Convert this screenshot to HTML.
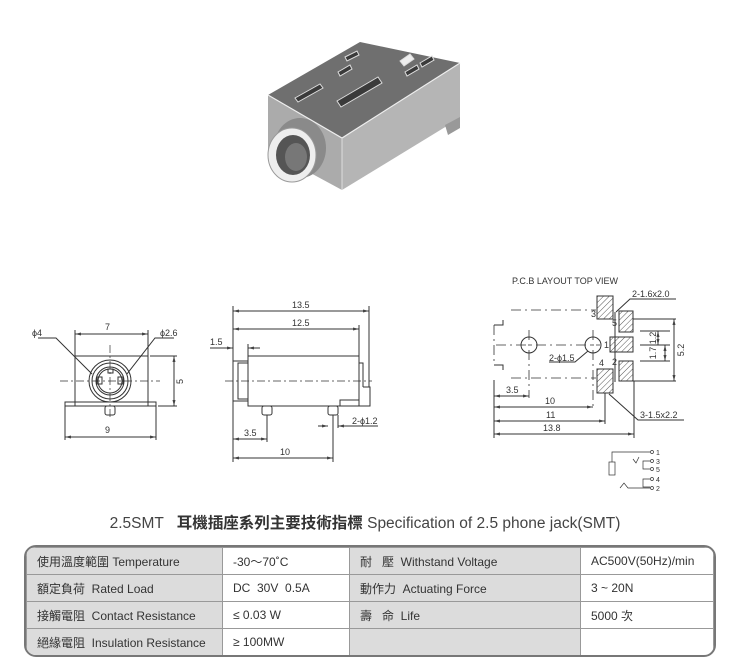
<!DOCTYPE html>
<html><head><meta charset="utf-8"><style>
body{margin:0;width:730px;height:670px;background:#fff;overflow:hidden;position:relative;font-family:"Liberation Sans","Noto Sans CJK TC",sans-serif}
svg{position:absolute;left:0;top:0}
.t{position:absolute;top:511px;left:0;width:730px;text-align:center;font-size:15.5px;color:#444;white-space:nowrap}
.t b{color:#333}
.wrap{position:absolute;left:24px;top:545px;width:688px;height:108px;border:2px solid #777;border-radius:12px;overflow:hidden}
table{position:absolute;left:0;top:0;width:688px;border-collapse:collapse;font-size:12px;color:#333}
td{height:27px;padding:0 0 0 10px;border:1px solid #999;box-sizing:border-box;white-space:nowrap}
td.g{background:#dcdcdc}
</style></head><body>
<svg width="730" height="670" viewBox="0 0 730 670" font-family="Liberation Sans, sans-serif" font-size="9" fill="#333">
<defs>
<pattern id="h" width="4" height="4" patternUnits="userSpaceOnUse" patternTransform="rotate(45)"><line x1="0" y1="0" x2="0" y2="4" stroke="#555" stroke-width="1"/></pattern>
<marker id="a" markerWidth="6" markerHeight="6" refX="6" refY="3" orient="auto-start-reverse"><path d="M0,1.5L6,3L0,4.5z" fill="#444"/></marker>
</defs>
<!-- 3D jack -->
<polygon points="268,95 360,42 460,63 342,138" fill="#6f6f6f"/>
<polygon points="342,138 460,63 460,118 342,190" fill="#b5b5b5"/>
<polygon points="268,95 342,138 342,190 268,150" fill="#ababab"/>
<polyline points="268,95 342,138 460,63" fill="none" stroke="#eee" stroke-width="1.2"/>
<line x1="342" y1="138" x2="342" y2="190" stroke="#ddd"/>
<polygon points="445,125 460,117 460,128 448,135" fill="#999"/>
<g fill="#3a3a3a" stroke="#ddd" stroke-width="1">
<polygon points="295,98 320,84 323,88 298,102"/>
<polygon points="337,101 378,77 382,83 341,107"/>
<polygon points="338,72 350,65 352,69 340,76"/>
<polygon points="345,57 357,51 359,55 347,61"/>
<polygon points="405,72 417,65 419,69 407,76"/>
<polygon points="420,63 432,56 434,60 422,67"/>
<polygon points="400,61 410,54 414,59 404,66" fill="#eee"/>
</g>
<ellipse cx="300" cy="148" rx="26" ry="30" fill="#8a8a8a"/>
<ellipse cx="292" cy="155" rx="24" ry="27" fill="#eee" stroke="#999"/>
<ellipse cx="293" cy="155" rx="17" ry="20" fill="#555"/>
<ellipse cx="296" cy="157" rx="11" ry="14" fill="#777"/>

<g stroke="#333" stroke-width="1" fill="none">
<rect x="75" y="356" width="73" height="50" fill="#fff"/>
<rect x="65" y="402" width="91" height="4"/>
<circle cx="110" cy="381" r="21"/><circle cx="110" cy="381" r="18"/><circle cx="110" cy="381" r="14"/><circle cx="110" cy="381" r="12"/>
<rect x="97" y="377" width="5" height="7"/><rect x="118" y="377" width="5" height="7"/><rect x="108" y="369" width="5" height="4"/>
<rect x="105" y="406" width="10" height="9" rx="2"/>
<line x1="60" y1="381" x2="160" y2="381" stroke-dasharray="8,3,2,3" stroke-width=".7"/>
<line x1="110" y1="345" x2="110" y2="420" stroke-dasharray="8,3,2,3" stroke-width=".7"/>
<line x1="75" y1="334" x2="148" y2="334" marker-start="url(#a)" marker-end="url(#a)"/>
<line x1="75" y1="330" x2="75" y2="356"/><line x1="148" y1="330" x2="148" y2="356"/>
<line x1="65" y1="437" x2="156" y2="437" marker-start="url(#a)" marker-end="url(#a)"/>
<line x1="65" y1="406" x2="65" y2="440"/><line x1="156" y1="406" x2="156" y2="440"/>
<line x1="174" y1="356" x2="174" y2="406" marker-start="url(#a)" marker-end="url(#a)"/>
<line x1="150" y1="356" x2="177" y2="356"/><line x1="158" y1="406" x2="177" y2="406"/>
<polyline points="38,338 56,338 92,374"/><polyline points="174,338 155,338 127,374"/>
<rect x="233" y="361" width="15" height="40"/><rect x="238" y="363" width="10" height="36"/>
<rect x="248" y="356" width="111" height="50" fill="#fff"/>
<path d="M359,363 h4 v24 M363,387 h7 v19 h-30 v-6 h19"/>
<rect x="262" y="406" width="10" height="9" rx="2"/><rect x="328" y="406" width="10" height="9" rx="2"/>
<line x1="225" y1="381" x2="372" y2="381" stroke-dasharray="8,3,2,3" stroke-width=".7"/>
<line x1="233" y1="311" x2="369" y2="311" marker-start="url(#a)" marker-end="url(#a)"/>
<line x1="233" y1="329" x2="359" y2="329" marker-start="url(#a)" marker-end="url(#a)"/>
<line x1="233" y1="306" x2="233" y2="462"/><line x1="369" y1="306" x2="369" y2="387"/><line x1="359" y1="325" x2="359" y2="356"/>
<line x1="210" y1="348" x2="233" y2="348" marker-end="url(#a)"/><line x1="248" y1="348" x2="260" y2="348" marker-start="url(#a)"/>
<line x1="248" y1="344" x2="248" y2="356"/>
<line x1="233" y1="439" x2="267" y2="439" marker-start="url(#a)" marker-end="url(#a)"/>
<line x1="233" y1="458" x2="333" y2="458" marker-start="url(#a)" marker-end="url(#a)"/>
<line x1="267" y1="415" x2="267" y2="442"/><line x1="333" y1="415" x2="333" y2="462"/><line x1="338" y1="415" x2="338" y2="428"/>
<line x1="318" y1="426" x2="328" y2="426" marker-end="url(#a)"/><line x1="348" y1="426" x2="338" y2="426" marker-end="url(#a)"/><line x1="348" y1="426" x2="378" y2="426"/>
<g stroke-dasharray="10,4,2,4" stroke-width=".8">
<polyline points="511,310 596,310"/><polyline points="511,378 596,378"/>
<polyline points="494,325 494,365"/><line x1="496" y1="345" x2="600" y2="345"/>
<line x1="529" y1="330" x2="529" y2="398"/><line x1="593" y1="330" x2="593" y2="408"/>
</g>
<polyline points="494,325 503,325 503,320"/><polyline points="494,365 503,365 503,370"/>
<circle cx="529" cy="345" r="8"/><circle cx="593" cy="345" r="8"/>
<g fill="url(#h)">
<rect x="597" y="296" width="16" height="23"/><rect x="619" y="311" width="14" height="21"/>
<rect x="610" y="337" width="23" height="15"/><rect x="619" y="361" width="14" height="20"/><rect x="597" y="369" width="16" height="24"/>
</g>
<line x1="615" y1="312" x2="615" y2="382"/>
<line x1="494" y1="380" x2="494" y2="438"/>
<line x1="605" y1="393" x2="605" y2="424"/><line x1="634" y1="381" x2="634" y2="438"/>
<line x1="494" y1="396" x2="529" y2="396" marker-start="url(#a)" marker-end="url(#a)"/>
<line x1="494" y1="407" x2="593" y2="407" marker-start="url(#a)" marker-end="url(#a)"/>
<line x1="494" y1="421" x2="605" y2="421" marker-start="url(#a)" marker-end="url(#a)"/>
<line x1="494" y1="434" x2="634" y2="434" marker-start="url(#a)" marker-end="url(#a)"/>
<line x1="633" y1="319" x2="676" y2="319"/><line x1="633" y1="381" x2="676" y2="381"/>
<line x1="640" y1="331" x2="670" y2="331"/><line x1="640" y1="361" x2="670" y2="361"/><line x1="640" y1="345" x2="670" y2="345"/>
<line x1="674" y1="319" x2="674" y2="381" marker-start="url(#a)" marker-end="url(#a)"/>
<line x1="658" y1="331" x2="658" y2="345" marker-start="url(#a)" marker-end="url(#a)"/>
<line x1="665" y1="345" x2="665" y2="361" marker-start="url(#a)" marker-end="url(#a)"/>
<polyline points="616,312 630,299 676,299"/>
<polyline points="549,362 575,362 588,351"/>
<polyline points="609,394 638,420 684,420"/>
<g stroke-width=".7">
<polyline points="650,452 612,452 612,462"/><rect x="609" y="462" width="6" height="13"/>
<polyline points="650,461 643,461 643,469 650,469"/><polyline points="633,459 636,463 639,457"/>
<polyline points="650,479 643,479 643,487 650,487"/><polyline points="620,488 624,483 628,488 650,488"/>
<circle cx="652" cy="452" r="1.5"/><circle cx="652" cy="461" r="1.5"/><circle cx="652" cy="469" r="1.5"/><circle cx="652" cy="479" r="1.5"/><circle cx="652" cy="488" r="1.5"/>
</g>
</g>
<g stroke="none" fill="#333">
<text x="105" y="330">7</text><text x="32" y="336">ϕ4</text><text x="160" y="336">ϕ2.6</text>
<text x="105" y="433">9</text><text x="183" y="384" transform="rotate(-90 183 384)">5</text>
<text x="292" y="308">13.5</text><text x="292" y="326">12.5</text><text x="210" y="345">1.5</text>
<text x="244" y="436">3.5</text><text x="280" y="455">10</text><text x="352" y="424">2-ϕ1.2</text>
<text x="512" y="284">P.C.B LAYOUT TOP VIEW</text>
<text x="632" y="297">2-1.6x2.0</text><text x="591" y="317">3</text><text x="612" y="326">5</text><text x="604" y="348">1</text>
<text x="612" y="365">2</text><text x="599" y="366">4</text><text x="549" y="361">2-ϕ1.5</text>
<text x="506" y="393">3.5</text><text x="545" y="404">10</text><text x="546" y="418">11</text><text x="543" y="431">13.8</text>
<text x="640" y="418">3-1.5x2.2</text>
<g text-anchor="middle">
<text x="656" y="338" transform="rotate(-90 656 338)">1.2</text>
<text x="656" y="353" transform="rotate(-90 656 353)">1.7</text>
<text x="684" y="350" transform="rotate(-90 684 350)">5.2</text>
</g>
<g font-size="7"><text x="656" y="455">1</text><text x="656" y="464">3</text><text x="656" y="472">5</text><text x="656" y="482">4</text><text x="656" y="491">2</text></g>
</g>
</svg>
<div class="t">2.5SMT&nbsp;&nbsp; <b>耳機插座系列主要技術指標</b> Specification of 2.5 phone jack(SMT)</div>
<div class="wrap"><table>
<tr><td class="g" style="width:196px">使用溫度範圍 Temperature</td><td style="width:127px">-30～70˚C</td><td class="g" style="width:231px">耐&nbsp;&nbsp;&nbsp;壓&nbsp; Withstand Voltage</td><td>AC500V(50Hz)/min</td></tr>
<tr><td class="g">額定負荷&nbsp; Rated Load</td><td>DC&nbsp; 30V&nbsp; 0.5A</td><td class="g">動作力&nbsp; Actuating Force</td><td>3 ~ 20N</td></tr>
<tr><td class="g">接觸電阻&nbsp; Contact Resistance</td><td>≤ 0.03 W</td><td class="g">壽&nbsp;&nbsp;&nbsp;命&nbsp; Life</td><td>5000 次</td></tr>
<tr><td class="g">絕緣電阻&nbsp; Insulation Resistance</td><td>≥ 100MW</td><td class="g"></td><td></td></tr>
</table></div>
</body></html>
